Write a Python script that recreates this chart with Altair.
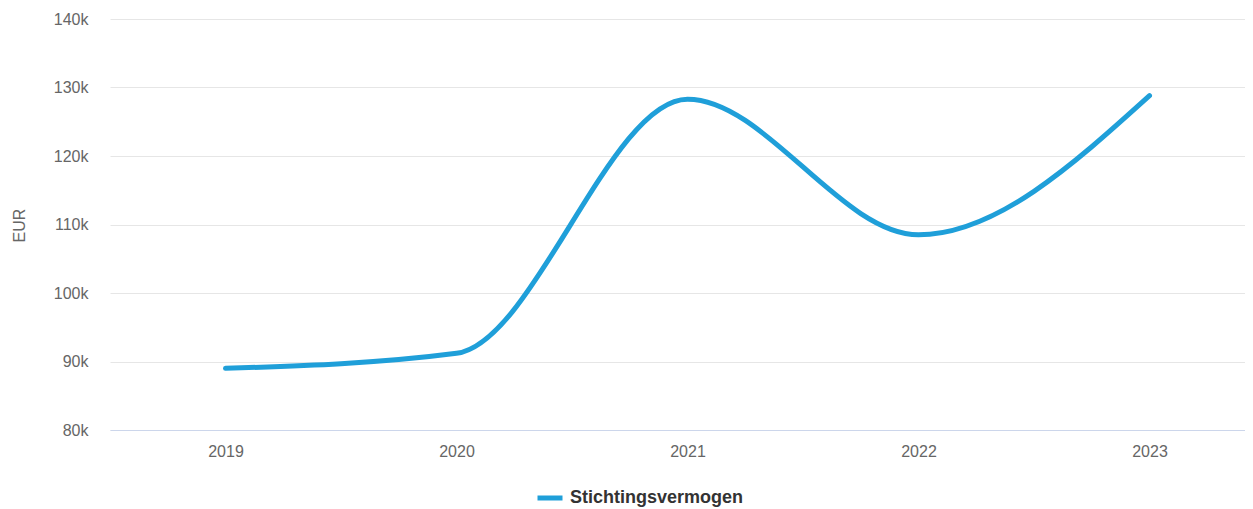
import altair as alt
import pandas as pd

years = [2019, 2020, 2021, 2022, 2023]
values = [89000, 91200, 128300, 108500, 128800]
series = ["Stichtingsvermogen"] * len(years)
y_ticks = [80000, 90000, 100000, 110000, 120000, 130000, 140000]

df = pd.DataFrame({"year": years, "value": values, "series": series})

line_color = "#1f9fd9"

chart = alt.Chart(df).mark_line(
    interpolate="monotone", strokeWidth=5, strokeCap="round", strokeJoin="round"
).encode(
    x=alt.X(
        "year:Q",
        scale=alt.Scale(domain=[2018.5, 2023.4134], nice=False, zero=False),
        axis=alt.Axis(
            values=years, format="d", grid=False, ticks=False,
            domain=True, domainColor="#ccd6eb", domainWidth=1,
            labelFont="Liberation Sans", labelFontSize=16, labelColor="#666666",
            labelPadding=13, title=None, labelFlush=False,
        ),
        title=None,
    ),
    y=alt.Y(
        "value:Q",
        scale=alt.Scale(domain=[80000, 140000], nice=False, zero=False),
        axis=alt.Axis(
            values=y_ticks, labelExpr="datum.value / 1000 + 'k'",
            grid=True, gridColor="#e6e6e6", gridWidth=1,
            ticks=False, domain=False,
            labelFont="Liberation Sans", labelFontSize=16, labelColor="#666666",
            labelPadding=22,
            title="EUR", titleFont="Liberation Sans", titleFontSize=16,
            titleFontWeight="normal", titleColor="#666666",
            titleAngle=270, titleX=-91, titleY=206,
            titleAlign="center", titleBaseline="middle",
        ),
    ),
    color=alt.Color(
        "series:N",
        scale=alt.Scale(range=[line_color]),
        legend=alt.Legend(
            title=None, orient="none", legendX=425, legendY=464,
            symbolType="stroke", symbolStrokeWidth=5, symbolSize=625,
            symbolStrokeColor=line_color,
            labelFont="Liberation Sans", labelFontSize=18, labelFontWeight="bold",
            labelColor="#333333", labelOffset=5, labelLimit=400,
        ),
    ),
).properties(
    width=1135,
    height=411,
    autosize=alt.AutoSizeParams(type="none"),
    padding={"left": 102, "top": 11, "right": 0, "bottom": 79},
).configure_view(stroke=None)

chart.save("out.html", embed_options={"renderer": "svg", "actions": False})
